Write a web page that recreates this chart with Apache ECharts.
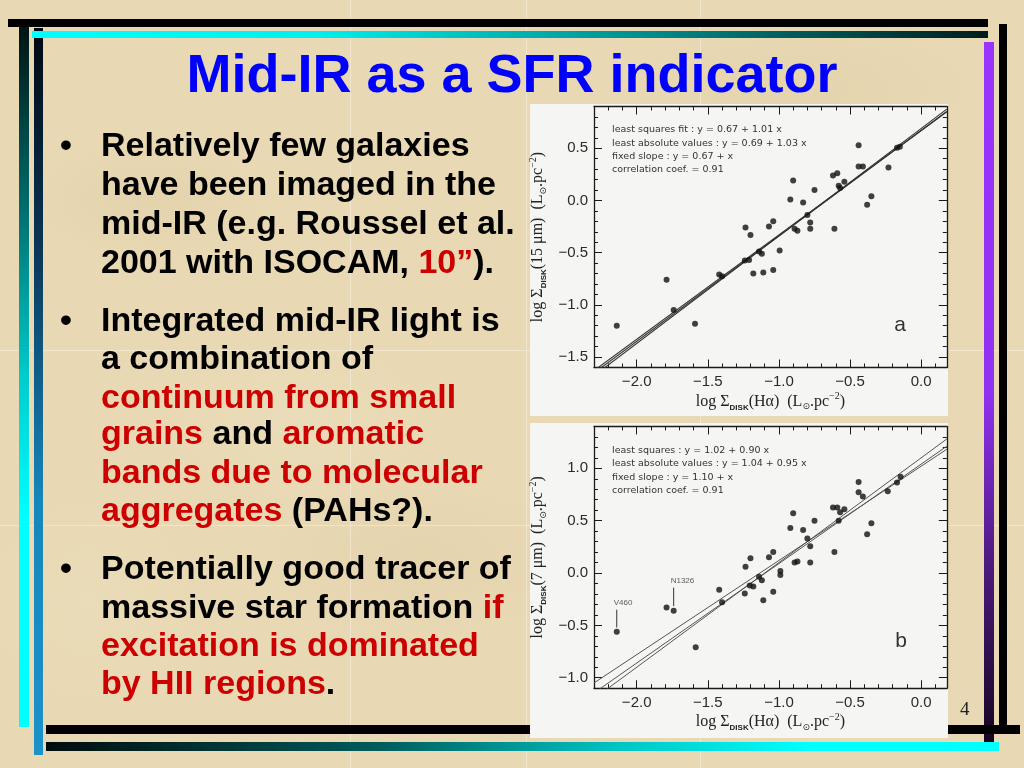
<!DOCTYPE html>
<html><head><meta charset="utf-8">
<script src="https://cdn.jsdelivr.net/npm/echarts@6/dist/echarts.min.js"></script>
<style>
html,body{margin:0;padding:0;width:1024px;height:768px;overflow:hidden;}
#slide{position:relative;width:1024px;height:768px;overflow:hidden;font-family:'Liberation Sans',Arial,sans-serif;
 background:
  radial-gradient(ellipse 120px 60px at 150px 200px, rgba(205,185,140,0.15), transparent),
  radial-gradient(ellipse 160px 80px at 420px 560px, rgba(205,185,140,0.13), transparent),
  radial-gradient(ellipse 140px 90px at 300px 420px, rgba(250,240,215,0.18), transparent),
  radial-gradient(ellipse 180px 70px at 800px 90px, rgba(205,185,140,0.13), transparent),
  radial-gradient(ellipse 120px 120px at 90px 600px, rgba(250,240,215,0.15), transparent),
  #e8d8b3;}
.bar{position:absolute;}
.seam{position:absolute;background:rgba(255,255,255,0.35);}
#chart{position:absolute;left:0;top:0;width:1024px;height:768px;z-index:2;}
.ln{position:absolute;left:101px;z-index:3;white-space:nowrap;font-weight:bold;font-size:34px;line-height:39px;color:#000;}
.bul{position:absolute;left:60px;z-index:3;font-weight:bold;font-size:34px;line-height:39px;color:#000;}
.r{color:#cc0000;}
#title{position:absolute;left:0;width:1024px;top:46px;text-align:center;z-index:3;font-weight:bold;font-size:54px;line-height:54px;color:#0000ff;white-space:nowrap;}
#pg{position:absolute;left:960px;top:698px;z-index:3;font-family:'Liberation Serif',serif;font-size:19px;line-height:22px;color:#222;}
</style></head>
<body>
<div id="slide">
  <div class="seam" style="left:350px;top:0;width:1px;height:768px"></div>
  <div class="seam" style="left:526px;top:0;width:1px;height:768px"></div>
  <div class="seam" style="left:700px;top:0;width:1px;height:768px"></div>
  <div class="seam" style="left:0;top:350px;width:1024px;height:1px"></div>
  <div class="seam" style="left:0;top:525px;width:1024px;height:1px"></div>

  <div class="bar" style="left:19px;top:27px;width:10px;height:700px;background:linear-gradient(to bottom,#001414 0%,#006a6a 25%,#00cccc 50%,#00ffff 70%,#00ffff 100%)"></div>
  <div class="bar" style="left:34px;top:28px;width:9px;height:727px;background:linear-gradient(to bottom,#000810 0%,#0a3556 30%,#1786ba 65%,#1b92c8 100%)"></div>
  <div class="bar" style="left:8px;top:19px;width:980px;height:8px;background:#000"></div>
  <div class="bar" style="left:32px;top:31px;width:956px;height:7px;background:linear-gradient(to right,#00ffff 0%,#00eeee 30%,#008a8a 65%,#001c1c 100%)"></div>
  <div class="bar" style="left:984px;top:42px;width:10px;height:700px;background:linear-gradient(to bottom,#9933ff 0%,#9131f2 50%,#4c1a7c 75%,#160620 100%)"></div>
  <div class="bar" style="left:999px;top:24px;width:8px;height:701px;background:#000"></div>
  <div class="bar" style="left:46px;top:725px;width:974px;height:9px;background:#000"></div>
  <div class="bar" style="left:46px;top:742px;width:953px;height:9px;background:linear-gradient(to right,#000c0c 0%,#005c5c 35%,#00c4c4 60%,#00ffff 80%,#00ffff 100%)"></div>

  <div id="title">Mid-IR as a SFR indicator</div>

  <div class="bul" style="top:125px">•</div>
  <div class="ln" style="top:125px">Relatively few galaxies</div>
  <div class="ln" style="top:164px">have been imaged in the</div>
  <div class="ln" style="top:203px">mid-IR (e.g. Roussel et al.</div>
  <div class="ln" style="top:242px">2001 with ISOCAM, <span class="r">10”</span>).</div>

  <div class="bul" style="top:300px">•</div>
  <div class="ln" style="top:300px">Integrated mid-IR light is</div>
  <div class="ln" style="top:338px">a combination of</div>
  <div class="ln" style="top:377px"><span class="r">continuum from small</span></div>
  <div class="ln" style="top:413px"><span class="r">grains</span> and <span class="r">aromatic</span></div>
  <div class="ln" style="top:452px"><span class="r">bands due to molecular</span></div>
  <div class="ln" style="top:490px"><span class="r">aggregates</span> (PAHs?).</div>

  <div class="bul" style="top:548px">•</div>
  <div class="ln" style="top:548px">Potentially good tracer of</div>
  <div class="ln" style="top:587px">massive star formation <span class="r">if</span></div>
  <div class="ln" style="top:625px"><span class="r">excitation is dominated</span></div>
  <div class="ln" style="top:663px"><span class="r">by HII regions</span>.</div>

  <div id="pg">4</div>
  <div id="chart"></div>
</div>
<script>
// ---- Panel a: 15 micron vs Halpha ----
const xA = [-2.14,-1.79,-1.74,-1.59,-1.42,-1.40,-1.24,-1.235,-1.21,-1.20,-1.18,-1.14,-1.12,-1.11,-1.07,-1.04,-1.04,-0.995,-0.92,-0.90,-0.89,-0.87,-0.83,-0.80,-0.78,-0.78,-0.75,-0.62,-0.61,-0.59,-0.58,-0.57,-0.54,-0.44,-0.44,-0.41,-0.38,-0.35,-0.23,-0.17,-0.15];
const yA = [-1.20,-0.76,-1.05,-1.18,-0.71,-0.725,-0.575,-0.26,-0.57,-0.33,-0.70,-0.49,-0.51,-0.69,-0.25,-0.20,-0.665,-0.48,0.01,0.19,-0.27,-0.29,-0.02,-0.14,-0.21,-0.27,0.10,0.24,-0.27,0.26,0.14,0.12,0.18,0.53,0.325,0.325,-0.04,0.04,0.315,0.505,0.515];
// ---- Panel b: 7 micron vs Halpha ----
const xB = [-2.14,-1.79,-1.74,-1.585,-1.42,-1.40,-1.24,-1.235,-1.205,-1.20,-1.18,-1.14,-1.12,-1.11,-1.07,-1.04,-1.04,-0.99,-0.99,-0.92,-0.90,-0.89,-0.87,-0.83,-0.80,-0.78,-0.78,-0.75,-0.62,-0.61,-0.59,-0.58,-0.57,-0.54,-0.44,-0.44,-0.41,-0.38,-0.35,-0.235,-0.17,-0.145];
const yB = [-0.56,-0.33,-0.36,-0.71,-0.16,-0.28,-0.195,0.06,-0.12,0.14,-0.13,-0.035,-0.07,-0.26,0.15,0.20,-0.18,0.02,-0.02,0.43,0.57,0.10,0.11,0.41,0.33,0.255,0.10,0.50,0.625,0.20,0.625,0.50,0.58,0.61,0.87,0.77,0.73,0.37,0.475,0.78,0.865,0.92];

// fit lines (end points at the x-axis limits), from the printed fit equations
const fitX = [-2.3, 0.18];
const fitA_ls  = [-1.653, 0.852];   // y = 0.67 + 1.01 x
const fitA_lav = [-1.679, 0.875];   // y = 0.69 + 1.03 x
const fitA_fs  = [-1.630, 0.850];   // y = 0.67 + x
const fitB_ls  = [-1.050, 1.182];   // y = 1.02 + 0.90 x
const fitB_lav = [-1.145, 1.211];   // y = 1.04 + 0.95 x
const fitB_fs  = [-1.200, 1.280];   // y = 1.10 + x

const legendA = ['least squares fit : y = 0.67 + 1.01 x','least absolute values : y = 0.69 + 1.03 x','fixed slope : y = 0.67 + x','correlation coef. = 0.91'];
const legendB = ['least squares : y = 1.02 + 0.90 x','least absolute values : y = 1.04 + 0.95 x','fixed slope : y = 1.10 + x','correlation coef. = 0.91'];

// labelled galaxies in panel b
const annNames = ['V460','N1326'];
const annX     = [-2.14, -1.74];
const annTop   = [-0.35, -0.14];
const annBot   = [-0.52, -0.315];

const xRange = [-2.3, 0.18];
const yRangeA = [-1.6, 0.9];
const yRangeB = [-1.1, 1.4];
const xMajor = [-2.0,-1.5,-1.0,-0.5,0.0];
const yMajorA = [-1.5,-1.0,-0.5,0.0,0.5];
const yMajorB = [-1.0,-0.5,0.0,0.5,1.0];

const zip = (xs, ys) => xs.map((x, i) => [x, ys[i]]);
const fmt = v => {
  if (Math.abs(v*2 - Math.round(v*2)) > 1e-6) return '';
  const s = Math.abs(v).toFixed(1);
  return (v < -1e-9 ? '\u2212' : '') + s;
};
const ink = '#1a1a1a';
const lbl = {fontFamily:'Liberation Sans', fontSize:15, color:'#2a2a2a'};
const nameStyle = {
  fontFamily:'Liberation Serif', fontSize:16, color:'#222', lineHeight:20,
  rich:{
    d:{fontFamily:'Liberation Sans', fontWeight:'bold', fontSize:8, color:'#222', verticalAlign:'bottom', lineHeight:9},
    o:{fontFamily:'DejaVu Sans', fontSize:9, color:'#222', verticalAlign:'bottom', lineHeight:10},
    p:{fontFamily:'Liberation Serif', fontSize:10, color:'#222', verticalAlign:'top', lineHeight:11}
  }
};

function xAxes(g, name) {
  const base = {type:'value', gridIndex:g, min:xRange[0], max:xRange[1], splitLine:{show:false}};
  return [
    Object.assign({}, base, {position:'bottom', interval:0.1,
      axisLine:{show:true, onZero:false, lineStyle:{color:ink, width:1.3}},
      axisTick:{show:true, inside:true, length:4, lineStyle:{color:ink, width:1}},
      axisLabel:Object.assign({show:true, margin:7, formatter:fmt}, lbl),
      name:name, nameLocation:'middle', nameGap:24, nameTextStyle:nameStyle}),
    Object.assign({}, base, {position:'bottom', interval:0.1,
      axisLine:{show:false, onZero:false},
      axisTick:{show:true, inside:true, length:8, customValues:xMajor, lineStyle:{color:ink, width:1}},
      axisLabel:{show:false}}),
    Object.assign({}, base, {position:'top', interval:0.1,
      axisLine:{show:true, onZero:false, lineStyle:{color:ink, width:1.3}},
      axisTick:{show:true, inside:true, length:4, lineStyle:{color:ink, width:1}},
      axisLabel:{show:false}}),
    Object.assign({}, base, {position:'top', interval:0.1,
      axisLine:{show:false, onZero:false},
      axisTick:{show:true, inside:true, length:8, customValues:xMajor, lineStyle:{color:ink, width:1}},
      axisLabel:{show:false}})
  ];
}
function yAxes(g, range, major, name) {
  const base = {type:'value', gridIndex:g, min:range[0], max:range[1], splitLine:{show:false}};
  return [
    Object.assign({}, base, {position:'left', interval:0.1,
      axisLine:{show:true, onZero:false, lineStyle:{color:ink, width:1.3}},
      axisTick:{show:true, inside:true, length:4, lineStyle:{color:ink, width:1}},
      axisLabel:Object.assign({show:true, margin:6, formatter:fmt}, lbl),
      name:name, nameLocation:'middle', nameGap:46, nameTextStyle:nameStyle}),
    Object.assign({}, base, {position:'left', interval:0.1,
      axisLine:{show:false, onZero:false},
      axisTick:{show:true, inside:true, length:8, customValues:major, lineStyle:{color:ink, width:1}},
      axisLabel:{show:false}}),
    Object.assign({}, base, {position:'right', interval:0.1,
      axisLine:{show:true, onZero:false, lineStyle:{color:ink, width:1.3}},
      axisTick:{show:true, inside:true, length:4, lineStyle:{color:ink, width:1}},
      axisLabel:{show:false}}),
    Object.assign({}, base, {position:'right', interval:0.1,
      axisLine:{show:false, onZero:false},
      axisTick:{show:true, inside:true, length:8, customValues:major, lineStyle:{color:ink, width:1}},
      axisLabel:{show:false}})
  ];
}

const xName = 'log Σ{d|DISK}(Hα)  (L{o|⊙}.pc{p|−2})';
const yNameA = 'log Σ{d|DISK}(15 μm)  (L{o|⊙}.pc{p|−2})';
const yNameB = 'log Σ{d|DISK}(7 μm)  (L{o|⊙}.pc{p|−2})';

function fitSeries(xi, yi, ys, color, w) {
  return {type:'line', xAxisIndex:xi, yAxisIndex:yi, data:zip(fitX, ys), symbol:'none', clip:true,
    lineStyle:{color:color, width:w}, z:3, silent:true, animation:false};
}

const series = [
  {type:'scatter', xAxisIndex:0, yAxisIndex:0, data:zip(xA, yA), symbol:'circle', symbolSize:6, itemStyle:{color:'#111'}, z:5},
  fitSeries(0,0,fitA_ls,'#333',1.1), fitSeries(0,0,fitA_lav,'#333',1.1), fitSeries(0,0,fitA_fs,'#333',1.1),
  {type:'scatter', xAxisIndex:4, yAxisIndex:4, data:zip(xB, yB), symbol:'circle', symbolSize:6, itemStyle:{color:'#111'}, z:5},
  fitSeries(4,4,fitB_ls,'#555',1), fitSeries(4,4,fitB_lav,'#555',1), fitSeries(4,4,fitB_fs,'#555',1)
];
annNames.forEach((n, i) => {
  series.push({type:'line', xAxisIndex:4, yAxisIndex:4, data:[[annX[i], annTop[i]], [annX[i], annBot[i]]],
    symbol:'none', lineStyle:{color:'#333', width:1}, silent:true, animation:false});
  series.push({type:'scatter', xAxisIndex:4, yAxisIndex:4, data:[[annX[i], annTop[i]]], symbolSize:0,
    label:{show:true, position:'top', distance:3, align:'left', offset:[-3,0], formatter:n,
      fontFamily:'Liberation Sans', fontSize:8, color:'#333'}, silent:true});
});

function legendGraphics(lines, top) {
  return lines.map((t, i) => ({type:'text', x:612, y:top + i*13.3, z:10,
    style:{text:t, fontFamily:'DejaVu Sans', fontSize:9.5, fill:'#333', align:'left', verticalAlign:'middle'}}));
}

const option = {
  backgroundColor:'transparent',
  animation:false,
  grid:[
    {left:594, top:106.5, width:352.8, height:261, show:false},
    {left:594, top:426.4, width:352.8, height:261.8, show:false}
  ],
  xAxis:[].concat(xAxes(0, xName), xAxes(1, xName)),
  yAxis:[].concat(yAxes(0, yRangeA, yMajorA, yNameA), yAxes(1, yRangeB, yMajorB, yNameB)),
  series:series,
  graphic:[
    {type:'rect', z:-100, shape:{x:530, y:104, width:418, height:312}, style:{fill:'#f5f5f4'}},
    {type:'rect', z:-100, shape:{x:530, y:423, width:418, height:315}, style:{fill:'#f5f5f4'}},
    {type:'text', x:900, y:325, z:10, style:{text:'a', fontFamily:'Liberation Sans', fontSize:21, fill:'#333', align:'center', verticalAlign:'middle'}},
    {type:'text', x:901, y:641, z:10, style:{text:'b', fontFamily:'Liberation Sans', fontSize:21, fill:'#333', align:'center', verticalAlign:'middle'}}
  ].concat(legendGraphics(legendA, 130), legendGraphics(legendB, 450.5))
};
const chart = echarts.init(document.getElementById('chart'));
chart.setOption(option);
</script>
</body></html>
